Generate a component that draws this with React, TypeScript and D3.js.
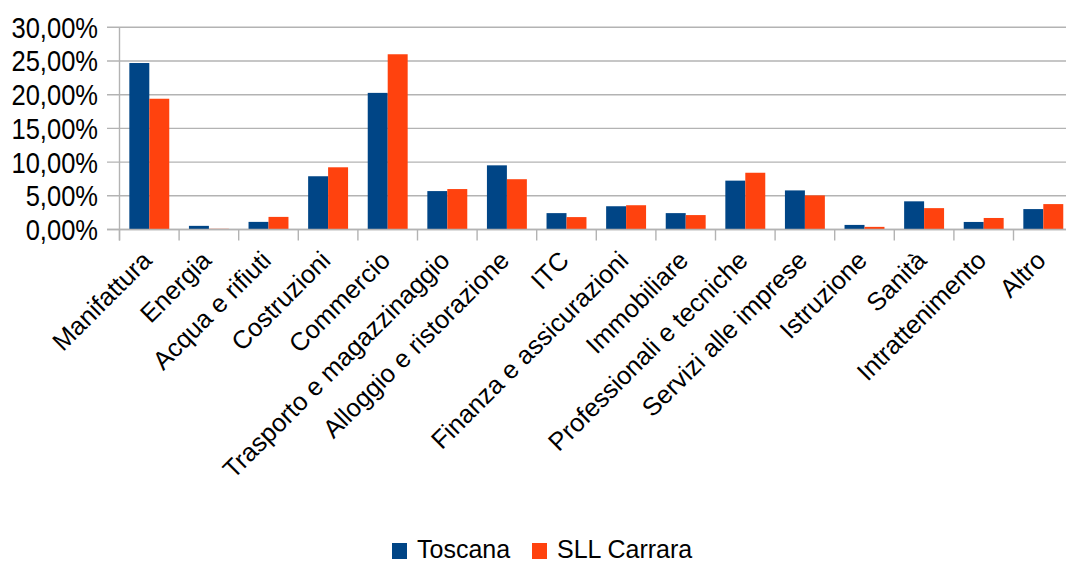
import React, { useEffect, useRef } from 'react';
import * as d3 from 'd3';

const categories = [
  'Manifattura', 'Energia', 'Acqua e rifiuti', 'Costruzioni', 'Commercio',
  'Trasporto e magazzinaggio', 'Alloggio e ristorazione', 'ITC',
  'Finanza e assicurazioni', 'Immobiliare', 'Professionali e tecniche',
  'Servizi alle imprese', 'Istruzione', 'Sanità', 'Intrattenimento', 'Altro',
];
const toscana = [24.7, 0.54, 1.13, 7.9, 20.27, 5.7, 9.52, 2.43, 3.45, 2.43, 7.25, 5.8, 0.68, 4.18, 1.12, 3.03];
const carrara = [19.4, 0.1, 1.87, 9.23, 26.0, 6.0, 7.46, 1.84, 3.6, 2.14, 8.42, 5.06, 0.39, 3.17, 1.71, 3.77];
const yTicks = [0, 5, 10, 15, 20, 25, 30];
const seriesNames = ['Toscana', 'SLL Carrara'];
const seriesColors = ['#004586', '#ff420e'];

const W = 1066;
const H = 563;
const FONT = '"Liberation Sans", Arial, sans-serif';

const App: React.FC = () => {
  const svgRef = useRef<SVGSVGElement>(null);

  useEffect(() => {
    if (!svgRef.current) return;
    const svg = d3.select(svgRef.current);
    svg.selectAll('*').remove();

    const left = 119.5;
    const step = 59.6;
    const x = d3.scaleBand<string>()
      .domain(categories)
      .range([left, left + step * categories.length])
      .paddingInner(0.33)
      .paddingOuter(0.165);
    const x1 = d3.scaleBand<number>().domain([0, 1]).range([0, x.bandwidth()]);
    const y = d3.scaleLinear().domain([0, 30]).range([229.5, 27.3]);

    // grid
    svg.append('g')
      .selectAll('line')
      .data(yTicks)
      .join('line')
      .attr('x1', 107)
      .attr('x2', W)
      .attr('y1', d => y(d))
      .attr('y2', d => y(d))
      .attr('stroke', '#b3b3b3')
      .attr('stroke-width', 1.4);

    // y labels (tall, a bit narrow)
    const fmt = (d: number) => d.toFixed(2).replace('.', ',') + '%';
    svg.append('g')
      .selectAll('text')
      .data(yTicks)
      .join('text')
      .attr('transform', d => `translate(98,${y(d)}) scale(0.88,1)`)
      .attr('dy', '0.36em')
      .attr('text-anchor', 'end')
      .attr('font-family', FONT)
      .attr('font-size', 29)
      .attr('fill', '#000')
      .text(fmt);

    // bars
    const series = [toscana, carrara];
    series.forEach((vals, s) => {
      svg.append('g')
        .attr('fill', seriesColors[s])
        .selectAll('rect')
        .data(vals)
        .join('rect')
        .attr('x', (d, i) => (x(categories[i]) || 0) + (x1(s) || 0))
        .attr('y', d => y(d))
        .attr('width', x1.bandwidth())
        .attr('height', d => y(0) - y(d));
    });

    // axis lines and category ticks
    svg.append('line')
      .attr('x1', left).attr('x2', left)
      .attr('y1', y(30)).attr('y2', 240.5)
      .attr('stroke', '#b3b3b3').attr('stroke-width', 1.4);
    svg.append('line')
      .attr('x1', 107).attr('x2', W)
      .attr('y1', y(0)).attr('y2', y(0))
      .attr('stroke', '#b3b3b3').attr('stroke-width', 1.4);
    svg.append('g')
      .selectAll('line')
      .data(d3.range(categories.length + 1))
      .join('line')
      .attr('x1', i => left + i * x.step())
      .attr('x2', i => left + i * x.step())
      .attr('y1', y(0))
      .attr('y2', 240.5)
      .attr('stroke', '#b3b3b3')
      .attr('stroke-width', 1.4);

    // category labels
    svg.append('g')
      .selectAll('text')
      .data(categories)
      .join('text')
      .attr('transform', d => `translate(${(x(d) || 0) + x.bandwidth() / 2 + 4},262) rotate(-45)`)
      .attr('text-anchor', 'end')
      .attr('font-family', FONT)
      .attr('font-size', 25.5)
      .attr('fill', '#000')
      .text(d => d);

    // legend
    const legendX = [392, 532];
    seriesNames.forEach((name, s) => {
      svg.append('rect')
        .attr('x', legendX[s]).attr('y', 543)
        .attr('width', 15).attr('height', 16)
        .attr('fill', seriesColors[s]);
      svg.append('text')
        .attr('x', legendX[s] + 25).attr('y', 558)
        .attr('font-family', FONT)
        .attr('font-size', 25)
        .attr('fill', '#000')
        .text(name);
    });
  }, []);

  return (
    <div style={{ position: 'absolute', left: 0, top: 0, width: W, height: H, background: '#fff' }}>
      <svg ref={svgRef} width={W} height={H} />
    </div>
  );
};

export default App;
